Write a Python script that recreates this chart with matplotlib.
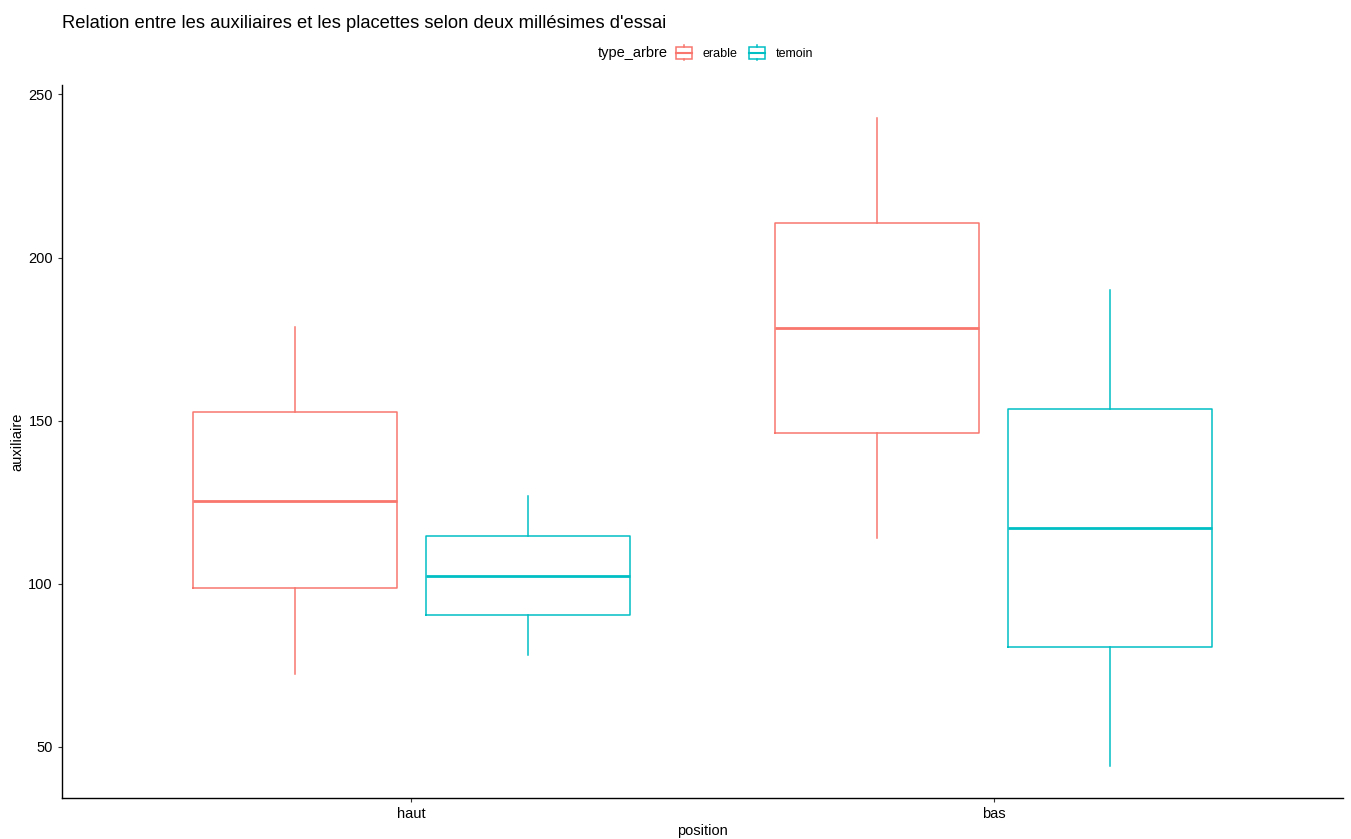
import matplotlib
matplotlib.use("Agg")
import matplotlib.pyplot as plt
from matplotlib.legend_handler import HandlerBase
from matplotlib.lines import Line2D
from matplotlib.patches import Rectangle

plt.rcParams["font.family"] = ["Liberation Sans", "DejaVu Sans"]

positions = ["haut", "bas"]
types = ["erable", "temoin"]
colors = {"erable": "#F8766D", "temoin": "#00BFC4"}

# summary stats per (type, position): whisker low, q1, median, q3, whisker high
whislo = {"erable": [72.4, 114.1], "temoin": [78.2, 44.2]}
q1 = {"erable": [98.8, 146.3], "temoin": [90.5, 80.7]}
med = {"erable": [125.5, 178.5], "temoin": [102.5, 117.2]}
q3 = {"erable": [152.5, 210.7], "temoin": [114.7, 153.7]}
whishi = {"erable": [178.8, 242.9], "temoin": [127.0, 189.9]}


class BoxHandler(HandlerBase):
    def create_artists(self, legend, orig_handle, xdescent, ydescent, width, height, fontsize, trans):
        c = orig_handle.get_color()
        cx = width / 2 - xdescent
        bw = width * 0.92
        x0 = cx - bw / 2
        y0 = -ydescent + height * 0.12
        h = height * 0.76
        rect = Rectangle((x0, y0), bw, h, facecolor="none", edgecolor=c, lw=1.1, transform=trans)
        mid = Line2D([x0, x0 + bw], [y0 + h / 2] * 2, color=c, lw=1.5, transform=trans)
        top = Line2D([cx, cx], [y0 + h, -ydescent + height], color=c, lw=1.1, transform=trans)
        bot = Line2D([cx, cx], [y0, -ydescent], color=c, lw=1.1, transform=trans)
        return [rect, mid, top, bot]


fig = plt.figure(figsize=(13.51, 8.39), dpi=100)
ax = fig.add_axes([0.0459, 0.0489, 0.9481, 0.8498])

offsets = {"erable": -0.2, "temoin": 0.2}
for t in types:
    stats = []
    for i, p in enumerate(positions):
        stats.append({
            "whislo": whislo[t][i], "q1": q1[t][i], "med": med[t][i],
            "q3": q3[t][i], "whishi": whishi[t][i], "fliers": [],
        })
    xs = [i + 1 + offsets[t] for i in range(len(positions))]
    c = colors[t]
    ax.bxp(
        stats, positions=xs, widths=0.35, showcaps=False, showfliers=False,
        boxprops=dict(color=c, lw=1.1),
        whiskerprops=dict(color=c, lw=1.1),
        medianprops=dict(color=c, lw=2.0, solid_capstyle="butt"),
        manage_ticks=False,
    )

ax.set_xlim(0.4, 2.6)
ax.set_ylim(34.3, 252.9)
ax.set_xticks([1, 2])
ax.set_xticklabels(positions)
ax.set_yticks([50, 100, 150, 200, 250])
ax.tick_params(labelsize=10.5, colors="#333333", length=3, width=0.8)
ax.tick_params(labelcolor="black")
for side in ("top", "right"):
    ax.spines[side].set_visible(False)
for side in ("left", "bottom"):
    ax.spines[side].set_linewidth(1.0)
ax.set_xlabel("position", fontsize=10.5, labelpad=2)
ax.set_ylabel("auxiliaire", fontsize=10.5, labelpad=3)

fig.text(0.046, 0.972, "Relation entre les auxiliaires et les placettes selon deux millésimes d'essai",
         fontsize=13.2, va="center", ha="left")

handles = [Line2D([], [], color=colors[t]) for t in types]
fig.text(0.4945, 0.937, "type_arbre", fontsize=10.5, ha="right", va="center")
fig.legend(handles, types, loc="center left", bbox_to_anchor=(0.5, 0.937), ncol=2,
           frameon=False, fontsize=9, handler_map={Line2D: BoxHandler()},
           handlelength=1.36, handleheight=1.5, handletextpad=0.8, columnspacing=0.9,
           borderaxespad=0, borderpad=0)

fig.savefig("out.png", dpi=100)
